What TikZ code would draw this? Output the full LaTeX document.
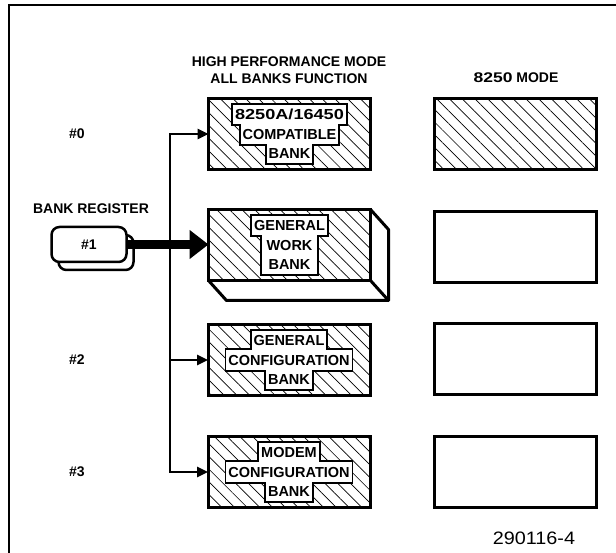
\documentclass[tikz,border=0pt]{standalone}
\usepackage{fontspec}
\usepackage{graphicx}
\setmainfont{Liberation Sans}
\usetikzlibrary{
  arrows.meta,
  positioning,
  patterns.meta
}
\pgfdeclarelayer{tagrect}
\pgfdeclarelayer{tagtext}
\pgfsetlayers{main,tagrect,tagtext}
\newcommand{\widenum}[1]{\scalebox{1.25}[1]{#1}}

\begin{document}
\begin{tikzpicture}[x=1pt, y=-1pt]

\tikzset{
  bank/.style={
    draw,
    line width=3pt,
    minimum width=162pt,
    minimum height=71pt,
    inner sep=0pt,
    outer sep=0pt
  },
  hatched/.style={pattern={Lines[angle=-45, distance=9pt, line width=0.7pt]}},
  tag/.style={
    inner xsep=2pt,
    inner ysep=0pt,
    outer sep=0pt,
    minimum height=19.5pt,
    text height=10.4pt,
    text depth=0pt,
    font=\fontsize{14.5}{16}\selectfont\bfseries
  },
  txt/.style={font=\fontsize{14}{17}\selectfont\bfseries, align=center},
  regbox/.style={
    draw,
    fill=white,
    rounded corners=8pt,
    line width=2.5pt,
    minimum width=75pt,
    minimum height=35pt
  },
  conn/.style={line width=2.5pt},
  >={Triangle[length=11pt, width=10pt]}
}

\useasboundingbox (0,0) rectangle (616,553);

% Frame
\draw[line width=1.5pt] (9,553) -- (9,5) -- (616,5);

% Headers
\node[txt] (hpmode) at (289,70) {HIGH PERFORMANCE MODE\\ALL BANKS FUNCTION};
\node[txt] (cmode)  at (516,78) {\widenum{8250} MODE};

% Row labels
\node[txt] (n0) at (77,134) {\#0};
\node[txt] (n2) at (77,360) {\#2};
\node[txt] (n3) at (77,472) {\#3};

% Banks high performance mode
\node[bank, hatched] (b0) at (289.5,134) {};
\node[bank, hatched] (b1) at (289.5,245) {};
\node[bank, hatched] (b2) at (289,360)   {};
\node[bank, hatched] (b3) at (289,472)   {};

% Depth of work bank
\draw[line width=3pt, line join=round]
(b1.north east) -- ++(18,20) -- ++(0,71) -- ++(-162,0) -- (b1.south west);
\draw[line width=3pt] (b1.south east) -- ++(18,20);

% Banks 8250 mode
\node[bank, hatched] (r0) at (515,134) {};
\node[bank]          (r1) at (515,247) {};
\node[bank]          (r2) at (515,359) {};
\node[bank]          (r3) at (515,472) {};

% Bank names
\begin{pgfonlayer}{tagtext}
\node[tag] (t0b) at (b0) {COMPATIBLE};
\node[tag, above=0pt of t0b] (t0a) {\widenum{8250A/16450}};
\node[tag, below=0pt of t0b] (t0c) {BANK};

\node[tag, minimum width=55pt] (t1b) at (b1) {WORK};
\node[tag, above=0pt of t1b] (t1a) {GENERAL};
\node[tag, minimum width=55pt, below=0pt of t1b] (t1c) {BANK};

\node[tag] (t2b) at (b2) {CONFIGURATION};
\node[tag, above=0pt of t2b] (t2a) {GENERAL};
\node[tag, below=0pt of t2b] (t2c) {BANK};

\node[tag] (t3b) at (b3) {CONFIGURATION};
\node[tag, above=0pt of t3b] (t3a) {MODEM};
\node[tag, below=0pt of t3b] (t3c) {BANK};
\end{pgfonlayer}

% Outline of bank names
\begin{pgfonlayer}{tagrect}
\foreach \t in {t0a,t0b,t0c,t1a,t1b,t1c,t2a,t2b,t2c,t3a,t3b,t3c}
  \draw[line width=3.6pt] (\t.north west) rectangle (\t.south east);
\foreach \t in {t0a,t0b,t0c,t1a,t1b,t1c,t2a,t2b,t2c,t3a,t3b,t3c}
  \fill[white] (\t.north west) rectangle (\t.south east);
\end{pgfonlayer}

% Bank register
\node[txt] (breg) at (91,209) {BANK REGISTER};
\node[regbox] (regsh) at (96,252.5) {};
\node[regbox, txt] (reg) at (89,244.5) {\#1};

% Arrow register
\draw[line width=9pt, -{Triangle[length=19pt, width=28pt]}] (reg.east) -- (reg.east -| b1.west);

% Arrows banks
\coordinate (bus) at (170,472);
\draw[conn, <->] (b0.west) -| (bus) -- (b3.west);
\draw[conn, ->] (bus |- b2.west) -- (b2.west);

% Figure number
\node[font=\fontsize{18}{20}\selectfont] (fig) at (534,538) {\scalebox{1.1}[1]{290116-4}};

\end{tikzpicture}
\end{document}
